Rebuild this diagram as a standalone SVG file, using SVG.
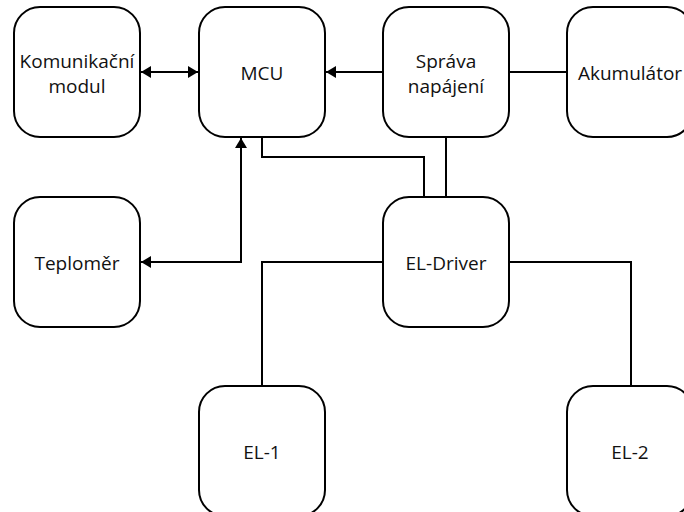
<svg xmlns="http://www.w3.org/2000/svg" width="684" height="512" viewBox="0 0 684 512">
  <defs>
    <style>
      .box { fill: #ffffff; stroke: #000000; stroke-width: 2; }
      .lbl { font-family: "Open Sans", "Noto Sans", sans-serif; font-size: 19px; fill: #111111; text-anchor: middle; }
      .wire { fill: none; stroke: #000000; stroke-width: 2; }
    </style>
    <marker id="arrow" viewBox="0 0 10 12" refX="10" refY="6" markerWidth="10" markerHeight="12" markerUnits="userSpaceOnUse" orient="auto-start-reverse">
      <path d="M0,0 L10,6 L0,12 Z" fill="#000000"/>
    </marker>
  </defs>

  <rect width="684" height="512" fill="#ffffff"/>

  <!-- connectors -->
  <g id="connectors">
    <path class="wire" d="M141,72 H198" marker-start="url(#arrow)" marker-end="url(#arrow)"/>
    <path class="wire" d="M383,72 H326" marker-end="url(#arrow)"/>
    <path class="wire" d="M509,72 H567"/>
    <path class="wire" d="M241,138 V262 H141" marker-start="url(#arrow)" marker-end="url(#arrow)"/>
    <path class="wire" d="M262,137 V157 H424 V197"/>
    <path class="wire" d="M446,137 V197"/>
    <path class="wire" d="M383,262 H262 V386"/>
    <path class="wire" d="M509,262 H631 V386"/>
  </g>

  <!-- nodes -->
  <g id="komunikacni-modul">
    <rect class="box" x="14" y="7" width="126" height="130" rx="26"/>
    <text class="lbl" x="77" y="68">Komunikační</text>
    <text class="lbl" x="77" y="93">modul</text>
  </g>
  <g id="mcu">
    <rect class="box" x="199" y="7" width="126" height="130" rx="26"/>
    <text class="lbl" x="262" y="80">MCU</text>
  </g>
  <g id="sprava-napajeni">
    <rect class="box" x="383" y="7" width="126" height="130" rx="26"/>
    <text class="lbl" x="446" y="68">Správa</text>
    <text class="lbl" x="446" y="93">napájení</text>
  </g>
  <g id="akumulator">
    <rect class="box" x="567" y="7" width="126" height="130" rx="26"/>
    <text class="lbl" x="630" y="80">Akumulátor</text>
  </g>
  <g id="teplomer">
    <rect class="box" x="14" y="197" width="126" height="130" rx="26"/>
    <text class="lbl" x="77" y="270">Teploměr</text>
  </g>
  <g id="el-driver">
    <rect class="box" x="383" y="197" width="126" height="130" rx="26"/>
    <text class="lbl" x="446" y="270">EL-Driver</text>
  </g>
  <g id="el-1">
    <rect class="box" x="199" y="386" width="126" height="130" rx="26"/>
    <text class="lbl" x="262" y="459">EL-1</text>
  </g>
  <g id="el-2">
    <rect class="box" x="567" y="386" width="126" height="130" rx="26"/>
    <text class="lbl" x="630" y="459">EL-2</text>
  </g>
</svg>
